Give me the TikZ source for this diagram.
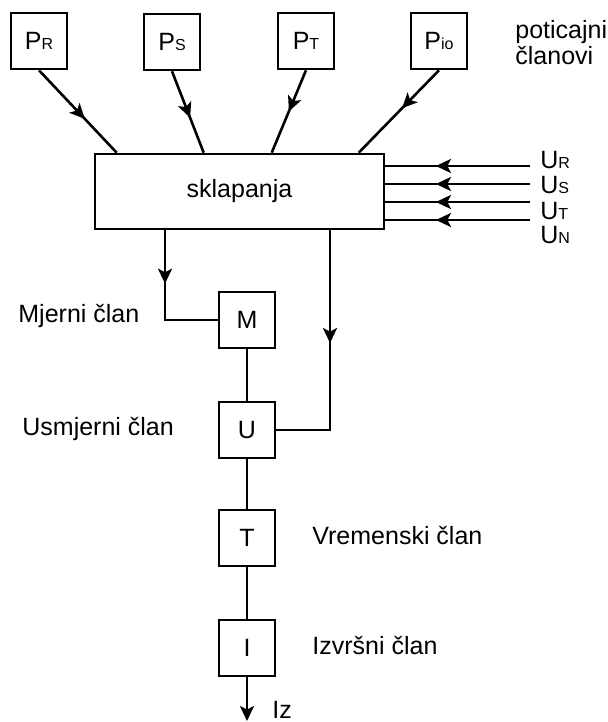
\documentclass[tikz,border=0pt]{standalone}
\usepackage{fontspec}
\setmainfont{Liberation Sans}
\usetikzlibrary{arrows.meta,decorations.markings}

\newcommand{\ind}[1]{{\fontsize{8}{9}\selectfont #1}}
\tikzset{
	blok/.style={shape=rectangle,draw=black,line width=1.3pt,minimum width=28pt,minimum height=28pt,inner sep=0pt},
	vod/.style={line width=1.3pt},
	strelica/.style={postaction={decorate},decoration={markings,mark=at position #1 with {\arrow{Stealth[length=7.5pt,width=7pt,inset=1.8pt]}}}},
	oznaka/.style={anchor=base west,inner sep=0pt}
}

\begin{document}
\begin{tikzpicture}[x=0.5pt,y=-0.5pt,font=\fontsize{12.5}{13}\selectfont]
	\useasboundingbox (0,0) rectangle (608,722);
	
	\node[blok] (pr) at (39, 41)     {P\ind{R}};
	\node[blok] (ps) at (172, 42)    {P\ind{S}};
	\node[blok] (pt) at (306, 41)    {P\ind{T}};
	\node[blok] (pio) at (439, 41)   {P\ind{io}};
	\node[blok,minimum width=144.5pt,minimum height=37.5pt] (sk) at (239.5, 191.5) {sklapanja};
	\node[blok] (m) at (247, 320)    {M};
	\node[blok] (u) at (247, 430)    {U};
	\node[blok] (t) at (247, 538)    {T};
	\node[blok] (i) at (247, 648)    {I};
	
	\coordinate (ur) at (530, 166);
	\coordinate (us) at (530, 184);
	\coordinate (ut) at (530, 202);
	\coordinate (un) at (530, 220);
	\coordinate (km) at (165, 320);
	\coordinate (ku) at (330, 430);
	\coordinate (iz) at (247, 721);
	
	\node[oznaka] (pot) at (515, 39)  {poticajni};
	\node[oznaka] (cla) at (515, 65)  {članovi};
	\node[oznaka] (lur) at (540, 168) {U\ind{R}};
	\node[oznaka] (lus) at (540, 193) {U\ind{S}};
	\node[oznaka] (lut) at (540, 219) {U\ind{T}};
	\node[oznaka] (lun) at (540, 243) {U\ind{N}};
	\node[oznaka] (lm) at (18, 322)   {Mjerni član};
	\node[oznaka] (lu) at (22, 435)   {Usmjerni član};
	\node[oznaka] (lt) at (312, 544)  {Vremenski član};
	\node[oznaka] (li) at (312, 654)  {Izvršni član};
	\node[oznaka] (liz) at (272, 718) {Iz};
	
	\draw[vod, strelica=0.59] (pr.south) -- ([xshift=11.5pt]sk.north west);
	\draw[vod, strelica=0.57] (ps.south) -- ([xshift=55pt]sk.north west);
	\draw[vod, strelica=0.5] (pt.south) -- ([xshift=89pt]sk.north west);
	\draw[vod, strelica=0.46] (pio.south) -- ([xshift=132.5pt]sk.north west);
	
	\draw[vod, strelica=0.65] (ur) -- (sk.east |- ur);
	\draw[vod, strelica=0.65] (us) -- (sk.east |- us);
	\draw[vod, strelica=0.65] (ut) -- (sk.east |- ut);
	\draw[vod, strelica=0.65] (un) -- (sk.east |- un);
	
	\draw[vod, strelica=0.375] (sk.south -| km) -- (km) -- (m.west);
	\draw[vod, strelica=0.445] (sk.south -| ku) -- (ku) -- (u.east);
	
	\draw[vod] (m) -- (u);
	\draw[vod] (u) -- (t);
	\draw[vod] (t) -- (i);
	\draw[vod, -{Stealth[length=7.5pt,width=7pt,inset=1.8pt]}] (i) -- (iz);
	
\end{tikzpicture}
\end{document}
